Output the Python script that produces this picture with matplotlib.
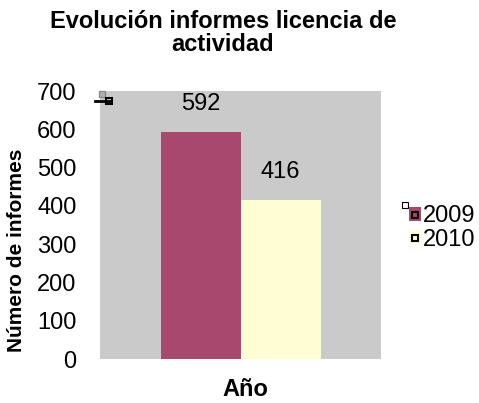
import matplotlib
matplotlib.use("Agg")
import matplotlib.pyplot as plt
from matplotlib.patches import Rectangle
from matplotlib.lines import Line2D

plt.rcParams['font.family'] = ['Liberation Sans', 'DejaVu Sans']

series = ['2009', '2010']
values = [592, 416]
colors = ['#A8486F', '#FFFDD3']
yticks = [0, 100, 200, 300, 400, 500, 600, 700]

W, H = 479, 403
fig = plt.figure(figsize=(W / 100, H / 100), dpi=100)
ax = fig.add_axes([100 / W, (H - 359) / H, 281 / W, 268 / H])
ax.set_facecolor('#CACACA')

bw = 80 / 281
offsets = [-bw / 2, bw / 2]
for s, v, c, o in zip(series, values, colors, offsets):
    ax.bar(o, v, width=bw, color=c, label=s, linewidth=0)
    ax.annotate(str(v), (o, v), xytext=(0, 28), textcoords='offset pixels',
                ha='center', va='center', fontsize=17)

ax.set_xlim(-0.5, 0.5)
ax.set_ylim(0, 700)
ax.set_yticks(yticks)
ax.set_yticklabels([str(t) for t in yticks], fontsize=17)
ax.tick_params(axis='y', length=0, pad=17)
ax.set_xticks([])
for sp in ax.spines.values():
    sp.set_visible(False)

fig.text(223 / W, 1 - 33 / H, 'Evolución informes licencia de\nactividad', ha='center', va='center',
         fontsize=17, fontweight='bold', linespacing=1.0)
fig.text(17 / W, 1 - 250 / H, 'Número de informes', rotation=90, ha='center', va='center',
         fontsize=15, fontweight='bold')
fig.text(245 / W, 1 - 390 / H, 'Año', ha='center', va='center', fontsize=17, fontweight='bold')

# small marker artifacts near the top-left corner of the plot area
fig.add_artist(Line2D([95 / W, 110 / W], [1 - 101 / H, 1 - 101 / H], color='black', lw=2))
fig.add_artist(Line2D([102 / W], [1 - 94 / H], marker='s', markersize=5, markerfacecolor='#B0B0B0',
                      markeredgecolor='#8A8A8A', linestyle='none'))
fig.add_artist(Line2D([109 / W], [1 - 101 / H], marker='s', markersize=5, markerfacecolor='none',
                      markeredgecolor='black', markeredgewidth=1.5, linestyle='none'))
fig.add_artist(Line2D([405 / W], [1 - 205 / H], marker='s', markersize=5, markerfacecolor='white',
                      markeredgecolor='black', markeredgewidth=0.8, linestyle='none'))

handles = []
for c in colors:
    handles.append((Rectangle((0, 0), 1, 1, facecolor=c, edgecolor='none'),
                    Line2D([], [], marker='s', markersize=5, markerfacecolor='none',
                           markeredgecolor='black', markeredgewidth=1.5, linestyle='none')))
leg = fig.legend(handles, series, loc='center left', bbox_to_anchor=(409 / W, 1 - 228 / H),
                 frameon=False, fontsize=17, handlelength=0.5, handleheight=0.5,
                 handletextpad=0.1, labelspacing=0.05, borderpad=0, borderaxespad=0)

fig.savefig('out.png', dpi=100)
